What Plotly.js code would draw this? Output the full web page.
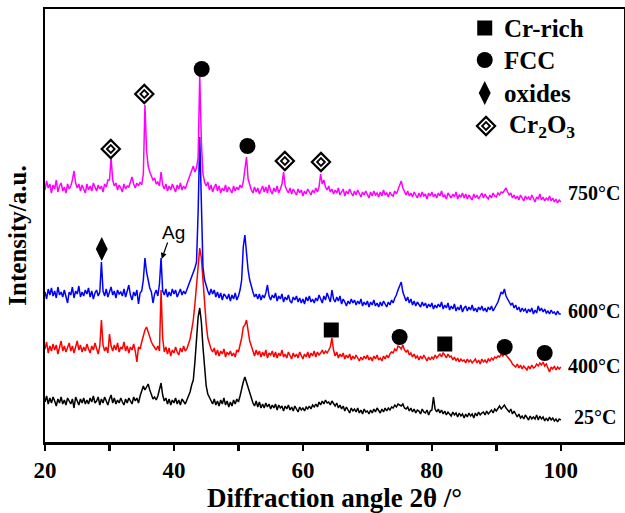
<!DOCTYPE html>
<html><head><meta charset="utf-8">
<script src="https://cdn.plot.ly/plotly-3.0.1.min.js"></script>
<style>html,body{margin:0;padding:0;background:#fff}#chart{width:625px;height:513px}</style>
</head><body><div id="chart"></div>
<script>
// diffraction angle grid (2θ, degrees)
const angle=[20,20.25,20.5,20.75,21,21.25,21.5,21.75,22,22.25,22.5,22.75,23,23.25,23.5,23.75,24,24.25,24.5,24.75,25,25.25,25.5,25.75,26,26.25,26.5,26.75,27,27.25,27.5,27.75,28,28.25,28.5,28.75,29,29.25,29.5,29.75,30,30.25,30.5,30.75,31,31.25,31.5,31.75,32,32.25,32.5,32.75,33,33.25,33.5,33.75,34,34.25,34.5,34.75,35,35.25,35.5,35.75,36,36.25,36.5,36.75,37,37.25,37.5,37.75,38,38.25,38.5,38.75,39,39.25,39.5,39.75,40,40.25,40.5,40.75,41,41.25,41.5,41.75,42,42.25,42.5,42.75,43,43.25,43.5,43.75,44,44.25,44.5,44.75,45,45.25,45.5,45.75,46,46.25,46.5,46.75,47,47.25,47.5,47.75,48,48.25,48.5,48.75,49,49.25,49.5,49.75,50,50.25,50.5,50.75,51,51.25,51.5,51.75,52,52.25,52.5,52.75,53,53.25,53.5,53.75,54,54.25,54.5,54.75,55,55.25,55.5,55.75,56,56.25,56.5,56.75,57,57.25,57.5,57.75,58,58.25,58.5,58.75,59,59.25,59.5,59.75,60,60.25,60.5,60.75,61,61.25,61.5,61.75,62,62.25,62.5,62.75,63,63.25,63.5,63.75,64,64.25,64.5,64.75,65,65.25,65.5,65.75,66,66.25,66.5,66.75,67,67.25,67.5,67.75,68,68.25,68.5,68.75,69,69.25,69.5,69.75,70,70.25,70.5,70.75,71,71.25,71.5,71.75,72,72.25,72.5,72.75,73,73.25,73.5,73.75,74,74.25,74.5,74.75,75,75.25,75.5,75.75,76,76.25,76.5,76.75,77,77.25,77.5,77.75,78,78.25,78.5,78.75,79,79.25,79.5,79.75,80,80.25,80.5,80.75,81,81.25,81.5,81.75,82,82.25,82.5,82.75,83,83.25,83.5,83.75,84,84.25,84.5,84.75,85,85.25,85.5,85.75,86,86.25,86.5,86.75,87,87.25,87.5,87.75,88,88.25,88.5,88.75,89,89.25,89.5,89.75,90,90.25,90.5,90.75,91,91.25,91.5,91.75,92,92.25,92.5,92.75,93,93.25,93.5,93.75,94,94.25,94.5,94.75,95,95.25,95.5,95.75,96,96.25,96.5,96.75,97,97.25,97.5,97.75,98,98.25,98.5,98.75,99,99.25,99.5,99.75,100];
// 750 °C (magenta), offset intensity
const i750=[252,261,254,258, 249,257,253,262, 250,256,259,251, 255,249,258,253, 256,262,271,259, 254,258,251,257, 253,249,258,252, 256,251,259,254, 251,257,253,256, 250,258,255,262,
 262,284,262,256, 259,252,257,254, 250,258,253,256, 255,260,265,258, 254,259,256,260, 257,268,337,292, 276,270,266,262, 264,258,260,256, 270,257,253,258, 251,256,252,258,
 254,250,257,253, 259,252,256,253, 258,263,267,272, 276,270,274,285, 367,300,268,260, 256,260,252,257, 250,255,258,251, 256,249,254,251, 257,250,255,252, 249,256,251,255,
 252,257,254,260, 272,285,263,256, 252,249,255,250, 254,248,253,256, 250,255,249,257, 251,248,254,250, 256,249,253,258, 270,256,252,249, 254,248,253,250, 247,253,249,252,
 246,251,248,253, 250,247,252,249, 254,250,255,268, 258,262,255,252, 256,250,253,248, 252,249,254,247, 250,253,246,251, 248,253,249,246, 251,247,252,248, 245,250,247,251,
 248,244,250,246, 251,247,249,245, 250,246,252,247, 249,245,250,247, 246,251,248,252, 255,261,254,250, 247,251,246,249, 245,250,247,244, 249,245,250,246, 248,243,249,246,
 250,245,248,244, 249,246,251,245, 247,243,249,246, 244,248,245,250, 243,247,245,249, 244,248,243,247, 245,242,248,244, 247,243,246,249, 244,248,245,243, 247,244,249,246,
 245,249,247,250, 249,252,254,250, 247,249,244,247, 243,246,242,247, 244,241,246,243, 245,242,247,243, 240,245,243,248, 242,245,241,244, 242,246,241,244, 240,243,239,242, 240];
// 600 °C (blue)
const i600=[150,143,153,147, 154,146,151,144, 155,147,150,145, 152,146,139,150, 147,155,144,151, 148,156,145,150, 146,152,148,154, 145,151,143,149, 152,146,150,180, 151,146,153,145,
 150,155,147,151, 144,152,148,150, 146,153,145,151, 157,147,142,150, 146,152,138,149, 151,162,184,170, 160,154,150,139, 148,152,146,158, 184,151,147,153, 145,150,146,153,
 148,152,145,150, 153,147,151,148, 152,156,160,165, 168,174,180,230, 305,232,175,162, 155,151,147,153, 148,152,145,150, 144,149,142,148, 146,143,148,141, 147,143,149,142,
 146,152,162,195, 207,188,172,162, 155,150,145,148, 143,148,142,147, 144,149,157,146, 142,147,144,149, 141,146,143,148, 140,145,142,147, 141,139,145,142, 146,140,144,139,
 143,138,145,141, 146,140,143,139, 144,141,147,143, 139,146,142,149, 144,140,152,143, 140,145,141,146, 138,143,140,136, 141,138,143,139, 142,137,141,138, 143,136,140,137,
 141,135,140,137, 142,136,139,135, 140,136,141,138, 135,140,137,142, 139,144,147,152, 156,160,150,145, 141,145,139,143, 137,141,136,140, 138,135,140,136, 139,134,138,135,
 139,133,137,134, 138,135,140,133, 137,134,139,132, 136,133,138,131, 135,132,137,130, 134,136,131,135, 132,137,131,134, 130,135,132,136, 131,134,130,135, 132,136,131,134,
 136,140,145,150, 148,153,146,142, 140,137,139,134, 137,132,135,130, 134,131,133,129, 133,130,134,128, 132,129,136,131, 134,130,133,129, 131,128,132,129, 130,127,131,128, 128];
// 400 °C (red)
const i400=[93,100,89,96, 91,98,92,97, 88,95,101,91, 96,90,95,99, 91,96,89,94, 101,92,97,90, 95,91,98,93, 89,96,92,99, 93,88,96,122, 97,91,95,89,
 108,96,91,97, 92,99,90,95, 93,100,91,96, 89,95,92,98, 91,80,95,93, 100,106,112,115, 110,104,100,97, 95,92,96,91, 152,104,90,95, 88,94,86,92,
 89,95,90,87, 94,90,96,91, 93,97,103,112, 122,138,158,180, 194,184,160,138, 118,104,97,93, 90,94,87,92, 86,91,88,93, 85,90,87,91, 86,89,85,92,
 90,96,104,115, 117,122,110,101, 96,91,86,92, 87,91,85,90, 86,92,84,89, 87,91,85,90, 84,89,86,92, 85,88,84,90, 86,83,89,85, 88,84,90,86,
 83,88,85,90, 84,89,86,91, 85,90,87,89, 92,88,91,89, 93,95,104,92, 86,90,84,88, 85,89,83,87, 84,88,82,86, 83,87,84,81, 85,82,86,83,
 87,82,85,81, 86,83,87,82, 84,81,86,83, 87,84,88,90, 89,93,91,96, 95,93,97,92, 90,92,87,89, 85,88,84,86, 82,86,83,87, 84,81,85,82,
 85,83,87,84, 86,88,85,89, 87,84,88,85, 86,82,85,81, 84,80,83,81, 82,79,83,80, 82,79,81,83, 79,82,78,83, 80,82,79,83, 81,84,82,85,
 84,86,85,88, 86,88,87,85, 84,81,78,76, 75,78,74,77, 73,76,74,72, 76,73,77,74, 75,78,76,79, 77,80,76,78, 74,70,75,73, 76,72,75,73, 75];
// 25 °C (black)
const i25=[40,46,38,44, 39,45,41,36, 43,39,45,38, 42,37,44,40, 38,43,34,45, 41,37,43,39, 44,38,42,38, 44,40,46,39, 41,45,37,43, 39,45,41,37,
 43,47,39,44, 38,42,39,44, 40,37,43,39, 44,40,38,45, 41,44,39,46, 50,56,52,55, 58,52,47,43, 45,42,46,52, 59,47,41,44, 38,43,37,42,
 39,44,38,42, 37,43,40,38, 42,46,50,57, 62,80,105,125, 134,120,95,72, 56,48,44,41, 38,43,37,41, 36,42,38,44, 37,41,35,40, 36,42,38,43,
 40,46,54,60, 65,60,55,49, 43,39,36,41, 35,40,34,38, 34,39,35,38, 33,37,34,38, 32,37,34,36, 31,36,33,37, 32,35,31,36, 33,30,35,32,
 34,31,35,33, 36,33,37,35, 38,35,40,37, 41,38,42,39, 40,37,41,38, 36,39,34,37, 33,36,31,35, 32,29,34,31, 33,30,34,29, 32,28,33,30,
 31,28,32,29, 33,30,34,31, 29,33,30,34, 31,34,32,35, 34,37,35,38, 37,36,38,34, 33,35,31,34, 30,33,29,32, 31,28,33,30, 29,32,27,31,
 32,45,33,30, 33,29,32,28, 31,27,30,28, 26,30,27,29, 25,29,26,28, 24,28,25,29, 26,28,24,29, 26,30,27,29, 30,27,31,28, 30,32,29,33,
 31,34,36,33, 35,37,34,32, 30,33,28,31, 27,25,28,24, 26,23,27,24, 22,26,23,25, 23,27,22,26, 23,25,21,24, 21,25,22,24, 21,23,20,23, 22];

// phase markers (angle, height)
const cr2o3X=[30.2,35.4,57.2,62.8], cr2o3Y=[293,348,281,280];
const fccX=[44.3,51.4,75.0,91.3,97.5], fccY=[373,296,105,95,89];
const crRichX=[64.4,82.0], crRichY=[112,98];
const oxideX=[28.8], oxideY=[193];

const legendNames=['Cr-rich','FCC','oxides','Cr<sub>2</sub>O<sub>3</sub>'];
const tempLabels=['750°C','600°C','400°C','25°C'];

const serif='"Liberation Serif","Times New Roman",serif';
const line=(y,c)=>({x:angle,y:y,type:'scatter',mode:'lines',line:{color:c,width:1.5},showlegend:false,hoverinfo:'skip'});
const mk=(x,y,sym,size,lw)=>({x:x,y:y,type:'scatter',mode:'markers',showlegend:false,hoverinfo:'skip',
  marker:{symbol:sym,size:size,color:'black',line:{color:'black',width:lw||0}}});

const legX=88.2, legY=[414,382,349,316];
const data=[
  line(i25,'#000000'),
  line(i400,'#ff0000'),
  line(i600,'#0000ff'),
  line(i750,'#ff00ff'),
  mk(cr2o3X,cr2o3Y,'diamond-open',14,2.2),
  mk(cr2o3X,cr2o3Y,'diamond-open',6,1.8),
  mk(fccX,fccY,'circle',16),
  mk(crRichX,crRichY,'square',15),
  mk(oxideX,oxideY,'diamond-tall',17),
  mk([legX],[legY[0]],'square',15),
  mk([legX],[legY[1]],'circle',16),
  mk([legX],[legY[2]],'diamond-tall',17),
  mk([legX+0.2],[legY[3]],'diamond-open',14,2.2),
  mk([legX+0.2],[legY[3]],'diamond-open',6,1.8)
];

const ann=[];
const legTX=[90.9,90.9,90.9,91.7];
legendNames.forEach((t,i)=>ann.push({x:legTX[i],y:legY[i],xref:'x',yref:'y',text:t,showarrow:false,xanchor:'left',yanchor:'middle',
  font:{family:serif,size:25,color:'black',weight:'bold'}}));
const tX=[100.8,100.8,100.8,101.7], tY=[249,131,76,25];
tempLabels.forEach((t,i)=>ann.push({x:tX[i],y:tY[i],xref:'x',yref:'y',text:t,showarrow:false,xanchor:'left',yanchor:'middle',
  font:{family:serif,size:20,color:'black',weight:'bold'}}));
ann.push({x:40.0,y:210,xref:'x',yref:'y',text:'Ag',showarrow:false,font:{family:'"Liberation Sans",Arial,sans-serif',size:19,color:'black'}});
ann.push({x:38.1,y:183,xref:'x',yref:'y',ax:39.1,ay:201,axref:'x',ayref:'y',text:'',showarrow:true,arrowhead:2,arrowsize:1,arrowwidth:1.2,arrowcolor:'black'});
ann.push({x:-0.047,y:0.476,xref:'paper',yref:'paper',text:'Intensity/a.u.',textangle:-90,showarrow:false,xanchor:'center',yanchor:'middle',
  font:{family:serif,size:25,color:'black',weight:'bold'}});

const layout={
  width:625,height:513,margin:{l:45,r:1,t:9,b:71,pad:0},
  paper_bgcolor:'white',plot_bgcolor:'white',showlegend:false,
  xaxis:{range:[20,109.8],tick0:20,dtick:20,
    ticks:'outside',ticklen:6,tickwidth:2.5,tickcolor:'black',showline:true,linewidth:2.5,linecolor:'black',mirror:true,
    minor:{tick0:20,dtick:10,ticks:'outside',ticklen:6,tickwidth:2.5,tickcolor:'black',showgrid:false},
    showgrid:false,zeroline:false,tickfont:{family:serif,size:23,color:'black',weight:'bold'},
    title:{text:'Diffraction angle 2θ /°',font:{family:serif,size:27,color:'black',weight:'bold'},standoff:4}},
  yaxis:{range:[0,433],showticklabels:false,ticks:'',showline:true,linewidth:2.5,linecolor:'black',mirror:true,
    showgrid:false,zeroline:false},
  annotations:ann
};
Plotly.newPlot('chart',data,layout,{displayModeBar:false,staticPlot:true});
</script></body></html>
